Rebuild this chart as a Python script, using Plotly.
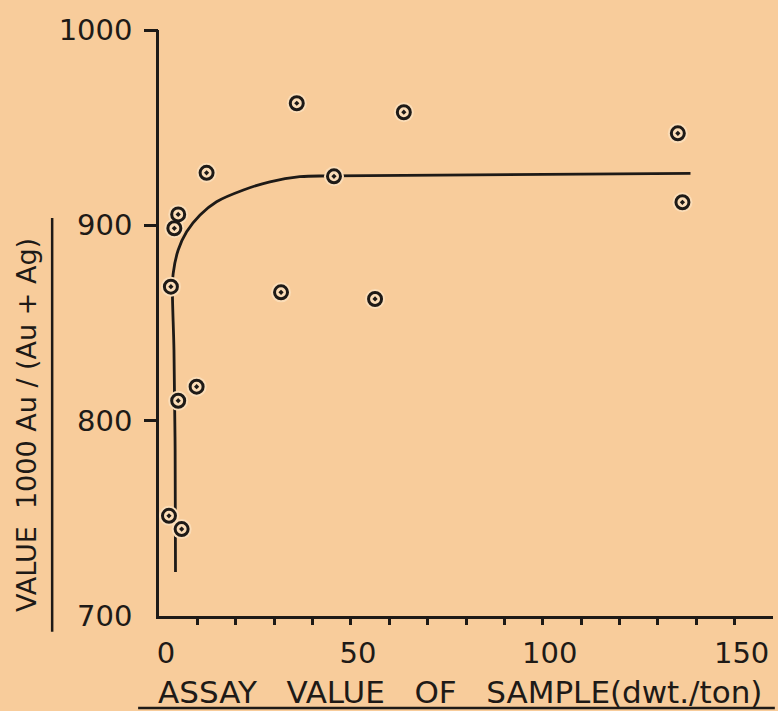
import plotly.graph_objects as go

# Data
sample_assay = [12.4, 5.0, 4.0, 3.1, 9.8, 5.0, 2.6, 5.9, 35.9, 63.8, 45.6, 31.8, 56.3, 135.2, 136.4]
sample_value = [926.9, 905.6, 898.5, 868.6, 817.4, 810.2, 751.3, 744.5, 962.5, 957.9, 925.1, 865.7, 862.3, 947.1, 911.8]

curve_assay = [4.3, 4.2, 3.9, 3.5, 3.7, 5.0, 7.2, 10.7, 15.0, 22.0, 28.9, 36.7, 45.4, 138.5]
curve_value = [722.5, 785.0, 836.2, 866.9, 875.4, 887.4, 896.7, 905.3, 912.1, 918.1, 922.3, 924.9, 925.3, 926.6]

x_label_vals = [0, 50, 100, 150]
x_label_text = ["0", "50", "100", "150"]
x_tick_marks = [10, 20, 30, 40, 50, 60, 70, 80, 90, 100, 110, 120, 130, 140, 150]
y_label_vals = [700, 800, 900, 1000]
y_label_text = ["700", "800", "900", "1000"]
y_tick_marks = [800, 900, 1000]

BG = "#F8CC9B"
HALO = "#FBDDB8"
INK = "#1E1A17"
FONT = "DejaVu Sans"
SP = "\u00a0"

fig = go.Figure()

fig.add_trace(go.Scatter(
    x=curve_assay, y=curve_value, mode="lines",
    line=dict(color=INK, width=2.8, shape="spline", smoothing=1.0),
    hoverinfo="skip", showlegend=False))

fig.add_trace(go.Scatter(
    x=sample_assay, y=sample_value, mode="markers",
    marker=dict(symbol="circle", size=20, color=HALO, line=dict(width=0)),
    hoverinfo="skip", showlegend=False))

fig.add_trace(go.Scatter(
    x=sample_assay, y=sample_value, mode="markers",
    marker=dict(symbol="circle-open-dot", size=13, color=INK, line=dict(width=3, color=INK)),
    showlegend=False))

# invisible trace for tick-mark overlay axes
fig.add_trace(go.Scatter(x=[0], y=[700], xaxis="x2", yaxis="y2", mode="markers",
                         marker=dict(opacity=0), hoverinfo="skip", showlegend=False))

fig.update_layout(
    width=778, height=711, autosize=False,
    margin=dict(l=159, r=5, t=30, b=95),
    paper_bgcolor=BG, plot_bgcolor=BG,
    font=dict(family=FONT, color=INK),
    xaxis=dict(range=[0, 160], showline=True, linecolor=INK, linewidth=2.5,
               showgrid=False, zeroline=False, tickvals=x_label_vals, ticktext=x_label_text,
               ticks="", ticklabelstandoff=9, ticklabelshift=7,
               tickfont=dict(size=29, family=FONT, color=INK)),
    xaxis2=dict(range=[0, 160], overlaying="x", anchor="y2", side="bottom",
                showline=False, showgrid=False, zeroline=False,
                tickvals=x_tick_marks, ticks="outside", ticklen=8, tickwidth=2.5,
                tickcolor=INK, showticklabels=False),
    yaxis=dict(range=[700, 1000], showline=True, linecolor=INK, linewidth=2.5,
               showgrid=False, zeroline=False, tickvals=y_label_vals, ticktext=y_label_text,
               ticks="", ticklabelstandoff=18,
               tickfont=dict(size=29, family=FONT, color=INK)),
    yaxis2=dict(range=[700, 1000], overlaying="y", anchor="x2", side="left",
                showline=False, showgrid=False, zeroline=False,
                tickvals=y_tick_marks, ticks="outside", ticklen=14, tickwidth=2.5,
                tickcolor=INK, showticklabels=False),
    annotations=[
        dict(text="ASSAY" + SP * 3 + "VALUE" + SP * 3 + "OF" + SP * 3 + "SAMPLE(dwt./ton)",
             xref="paper", yref="paper",
             x=0.490, y=-0.130, xanchor="center", yanchor="middle", showarrow=False,
             font=dict(size=31, family=FONT, color=INK)),
        dict(text="VALUE" + SP * 2 + "1000 Au / (Au + Ag)", xref="paper", yref="paper",
             x=-0.215, y=0.326, xanchor="center", yanchor="middle", showarrow=False,
             textangle=-90, font=dict(size=27, family=FONT, color=INK)),
    ],
    shapes=[
        dict(type="line", xref="paper", yref="paper", x0=-0.034, x1=1.003, y0=-0.157, y1=-0.157,
             line=dict(color=INK, width=2.5)),
        dict(type="line", xref="paper", yref="paper", x0=-0.174, x1=-0.174, y0=0.679, y1=-0.027,
             line=dict(color=INK, width=2.5)),
    ],
)

fig.write_html("out.html", config={"displayModeBar": False},
               post_script="document.body.style.margin='0';document.body.style.background='" + BG + "';")
